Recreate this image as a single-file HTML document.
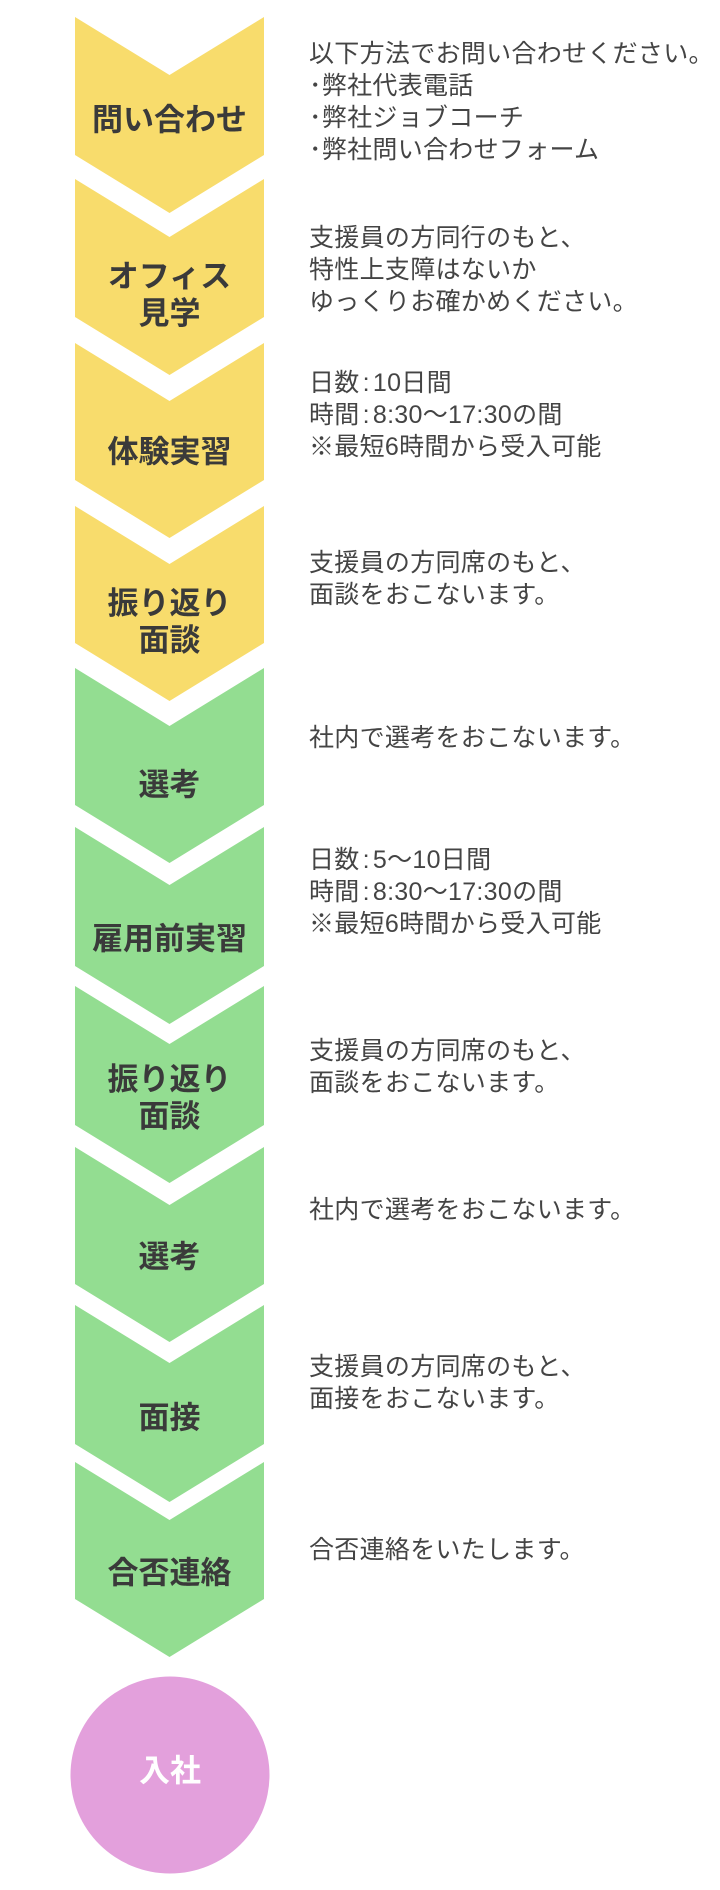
<!DOCTYPE html>
<html><head><meta charset="utf-8"><style>
html,body{margin:0;padding:0;background:#fff;}
body{width:720px;height:1890px;position:relative;overflow:hidden;font-family:"Liberation Sans","Noto Sans CJK JP",sans-serif;}
svg{position:absolute;left:0;top:0;}
.lb{position:absolute;left:75px;width:189px;text-align:center;font-weight:bold;font-size:31px;line-height:37px;color:#3a3a3a;transform:translateY(-50%);}
.d{position:absolute;left:309px;font-size:25px;line-height:32px;color:#444;white-space:nowrap;letter-spacing:0.3px;}
.c{padding:0 3px;}
</style></head><body>
<svg width="720" height="1890" viewBox="0 0 720 1890">
<g fill="#F8DC6C">
<polygon points="75,17 169.5,75 264,17 264,155 169.5,213 75,155"/>
<polygon points="75,179 169.5,237 264,179 264,317 169.5,375 75,317"/>
<polygon points="75,343 169.5,401 264,343 264,480 169.5,538 75,480"/>
<polygon points="75,506 169.5,564 264,506 264,643 169.5,701 75,643"/>
</g>
<g fill="#93DD91">
<polygon points="75,668 169.5,726 264,668 264,805 169.5,863 75,805"/>
<polygon points="75,827 169.5,885 264,827 264,966 169.5,1024 75,966"/>
<polygon points="75,986 169.5,1044 264,986 264,1125 169.5,1183 75,1125"/>
<polygon points="75,1147 169.5,1205 264,1147 264,1284 169.5,1342 75,1284"/>
<polygon points="75,1305 169.5,1363 264,1305 264,1444 169.5,1502 75,1444"/>
<polygon points="75,1462 169.5,1520 264,1462 264,1599 169.5,1657 75,1599"/>
</g>
<ellipse cx="170" cy="1775" rx="99.5" ry="98.5" fill="#E3A0DC"/>
</svg>

<div class="lb" style="top:120px">問い合わせ</div>
<div class="lb" style="top:295px">オフィス<br>見学</div>
<div class="lb" style="top:452px">体験実習</div>
<div class="lb" style="top:622px">振り返り<br>面談</div>
<div class="lb" style="top:785px">選考</div>
<div class="lb" style="top:939px">雇用前実習</div>
<div class="lb" style="top:1098px">振り返り<br>面談</div>
<div class="lb" style="top:1257px">選考</div>
<div class="lb" style="top:1418px">面接</div>
<div class="lb" style="top:1573px">合否連絡</div>
<div class="lb" style="top:1771px;color:#fff;left:70px;width:200px">入社</div>

<div class="d" style="top:38px">以下方法でお問い合わせください。<br>･弊社代表電話<br>･弊社ジョブコーチ<br>･弊社問い合わせフォーム</div>
<div class="d" style="top:222px">支援員の方同行のもと、<br>特性上支障はないか<br>ゆっくりお確かめください。</div>
<div class="d" style="top:367px">日数<span class="c">:</span>10日間<br>時間<span class="c">:</span>8:30～17:30の間<br>※最短6時間から受入可能</div>
<div class="d" style="top:547px">支援員の方同席のもと、<br>面談をおこないます。</div>
<div class="d" style="top:722px">社内で選考をおこないます。</div>
<div class="d" style="top:844px">日数<span class="c">:</span>5～10日間<br>時間<span class="c">:</span>8:30～17:30の間<br>※最短6時間から受入可能</div>
<div class="d" style="top:1035px">支援員の方同席のもと、<br>面談をおこないます。</div>
<div class="d" style="top:1194px">社内で選考をおこないます。</div>
<div class="d" style="top:1351px">支援員の方同席のもと、<br>面接をおこないます。</div>
<div class="d" style="top:1534px">合否連絡をいたします。</div>
</body></html>
